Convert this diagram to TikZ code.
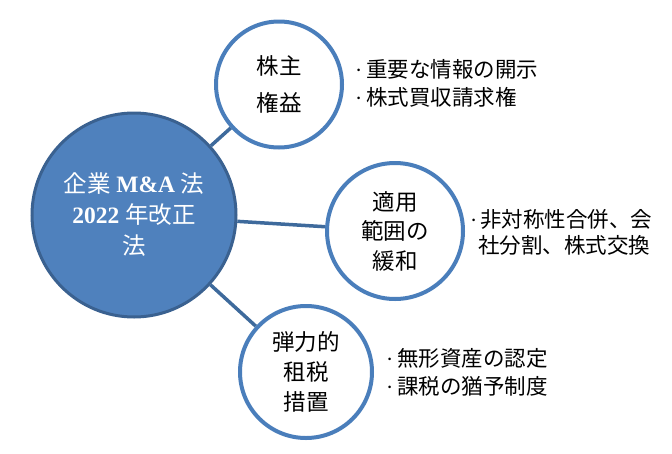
\documentclass[tikz,border=0pt]{standalone}
\usepackage{fontspec}
\setmainfont{Liberation Serif}
\newfontfamily\cjk{Noto Sans CJK JP}
\definecolor{ringblue}{HTML}{4A7EBB}
\definecolor{fillblue}{HTML}{4F81BD}
\definecolor{darkblue}{HTML}{3A6190}
\definecolor{linkblue}{HTML}{3E6A9C}
\newcommand{\itemdot}[1]{{\rmfamily ·}\hspace{#1}}
\tikzset{
  hub/.style={circle, draw=darkblue, line width=3pt, fill=fillblue, inner sep=0pt,
    minimum size=204pt, text=white, align=center},
  ring/.style={circle, draw=ringblue, line width=4pt, fill=white, inner sep=0pt,
    align=center, text=black},
  items/.style={anchor=west, align=left, inner sep=0pt, text=black,
    font=\cjk\fontsize{21.5}{28}\selectfont},
  link/.style={draw=linkblue, line width=3.5pt}
}
\begin{document}
\begin{tikzpicture}[x=1pt,y=-1pt]
\useasboundingbox (0,0) rectangle (672,453);
\node[hub, font=\fontsize{23.5}{31}\selectfont] (hub) at (134,215)
  {{\cjk 企業} \textbf{M\&A} {\cjk 法}\\\textbf{2022} {\cjk 年改正}\\{\cjk 法}};
\node[ring, minimum size=126pt, font=\cjk\fontsize{22.5}{37.5}\selectfont] (sh) at (279,84.5)
  {株主\\権益};
\node[ring, minimum size=136pt, font=\cjk\fontsize{22.5}{29.5}\selectfont] (sc) at (395,231)
  {適用\\範囲の\\緩和};
\node[ring, minimum size=132pt, font=\cjk\fontsize{22.5}{30}\selectfont] (tx) at (306,372)
  {弾力的\\租税\\措置};
\draw[link] (hub) -- (sh);
\draw[link] (hub) -- (sc);
\draw[link] (hub) -- (tx);
\node[items] (t1) at (355,83)
  {\itemdot{4pt}重要な情報の開示\\\itemdot{4pt}株式買収請求権};
\node[items, font=\cjk\fontsize{21.5}{25.5}\selectfont] (t2) at (470,232.5)
  {\itemdot{3pt}非対称性合併、会\\\hspace*{8pt}社分割、株式交換};
\node[items] (t3) at (386,372.5)
  {\itemdot{4pt}無形資産の認定\\\itemdot{4pt}課税の猶予制度};
\end{tikzpicture}
\end{document}
